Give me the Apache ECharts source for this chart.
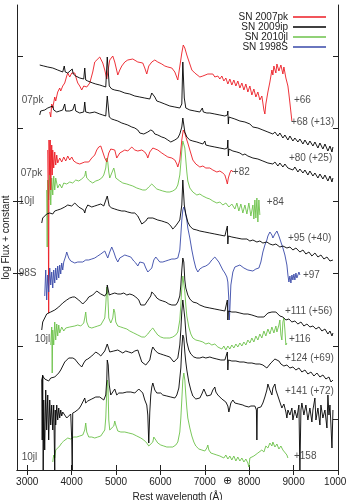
<!DOCTYPE html>
<html><head><meta charset="utf-8">
<script src="https://cdn.jsdelivr.net/npm/echarts@6/dist/echarts.min.js"></script>
<style>html,body{margin:0;padding:0;background:#fff}#c{width:346px;height:500px}</style>
</head><body><div id="c"></div>
<script>
// ---- x tick labels (Å) and y tick positions (log flux + constant) ----
const xTicks = [3000,4000,5000,6000,7000,8000,9000,10000];
const yTicks = [5.1,12.4,19.65,26.9,34.2,41.4];
const yTicksOut = [19.65,26.9];

// ---- spectra: [rest wavelength (Å), log flux + constant] ----
const pk66 = [[3507,35.8],[3530,35.3],[3552,36.6],[3575,36.2],[3620,37.3],[3642,36.9],[3687,37.8],[3732,38.2],[3755,37.9],[3800,38.4],[3845,38.7],[3890,39.4],[3913,39.7],[3958,39.3],[4003,39.7],[4071,39.7],[4116,39.0],[4138,38.7],[4183,38.4],[4228,38.0],[4273,38.4],[4341,38.3],[4409,38.7],[4476,39.8],[4521,40.8],[4566,41.0],[4634,41.3],[4702,40.7],[4747,40.0],[4792,39.1],[4837,40.4],[4859,41.0],[4927,41.4],[4972,40.8],[5040,39.5],[5085,40.0],[5130,40.4],[5198,40.8],[5265,41.0],[5310,41.2],[5378,41.1],[5423,41.2],[5491,40.8],[5536,41.0],[5603,40.7],[5648,40.2],[5693,39.6],[5738,40.4],[5806,40.8],[5874,41.0],[5941,40.8],[6031,40.6],[6099,40.4],[6167,40.3],[6257,40.2],[6325,39.8],[6392,39.0],[6437,39.2],[6482,41.7],[6515,42.5],[6550,42.2],[6595,41.5],[6617,41.2],[6663,40.6],[6708,40.0],[6775,39.7],[6820,39.5],[6888,39.3],[6956,39.4],[7001,39.2],[7068,39.6],[7113,39.4],[7181,39.6],[7226,39.3],[7294,39.4],[7339,39.1],[7384,39.4],[7429,38.9],[7474,39.2],[7519,38.6],[7564,39.1],[7609,38.5],[7654,39.0],[7700,38.4],[7744,38.9],[7790,38.2],[7835,38.7],[7880,38.0],[7925,38.6],[7970,37.8],[8015,38.4],[8060,37.5],[8105,38.1],[8150,37.3],[8195,37.8],[8240,37.0],[8285,37.4],[8331,36.0],[8353,35.6],[8375,36.6],[8421,37.8],[8466,38.8],[8511,40.0],[8533,39.5],[8556,40.4],[8601,39.7],[8624,40.6],[8669,39.9],[8714,40.5],[8759,39.6],[8781,40.3],[8826,39.2],[8872,38.4],[8894,37.6],[8917,36.7],[8939,35.8],[8962,34.9]];

const ip68 = [[3282,40.5],[3327,40.7],[3372,40.4],[3417,40.6],[3462,40.3],[3507,40.4],[3575,40.2],[3620,40.2],[3687,40.0],[3732,39.9],[3800,39.8],[3834,40.4],[3857,39.8],[3913,39.7],[3958,39.6],[4014,40.1],[4037,39.6],[4093,39.4],[4138,39.3],[4183,39.2],[4228,39.2],[4273,39.1],[4296,40.2],[4318,39.0],[4364,38.9],[4409,38.8],[4476,38.7],[4544,38.6],[4634,38.5],[4702,38.4],[4769,38.3],[4803,41.3],[4825,41.2],[4848,38.4],[4904,38.1],[4972,38.0],[5085,37.9],[5198,37.7],[5310,37.6],[5423,37.4],[5536,37.3],[5648,37.2],[5761,37.1],[5806,37.7],[5829,37.8],[5874,37.3],[5919,36.9],[5986,36.8],[6099,36.6],[6212,36.4],[6325,36.3],[6437,36.2],[6482,36.6],[6505,40.8],[6520,40.8],[6538,37.2],[6572,36.2],[6663,36.0],[6775,35.9],[6888,35.8],[6944,36.2],[6967,35.8],[7046,35.7],[7113,35.7],[7226,35.6],[7339,35.5],[7452,35.4],[7508,35.5],[7519,35.9],[7530,34.6],[7542,35.3],[7609,35.2],[7677,35.1],[7722,34.9],[7790,34.9],[7835,34.7],[7903,34.8],[7948,34.6],[8015,34.6],[8083,34.3],[8128,34.5],[8195,34.2],[8240,34.3],[8308,34.0],[8353,34.2],[8421,33.8],[8466,34.0],[8533,33.6],[8579,33.8],[8646,33.4],[8691,33.7],[8759,33.2],[8804,33.5],[8872,33.0],[8917,33.4],[8984,32.9],[9029,33.2],[9097,32.8],[9142,33.1],[9210,32.6],[9255,33.0],[9322,32.5],[9367,32.9],[9435,32.4],[9480,32.8],[9548,32.2],[9593,32.7],[9660,32.1],[9706,32.6],[9773,31.9],[9819,32.4],[9864,31.8],[9886,32.3]];

const ip80 = [[3282,35.5],[3304,35.9],[3349,35.7],[3394,36.0],[3462,36.2],[3507,36.0],[3575,36.4],[3597,36.0],[3665,35.8],[3732,35.9],[3800,36.0],[3845,36.6],[3868,35.9],[3958,35.9],[4025,36.0],[4071,36.6],[4093,35.9],[4183,35.7],[4273,35.8],[4296,36.8],[4318,35.8],[4409,35.7],[4521,35.8],[4634,35.6],[4702,35.5],[4769,35.4],[4803,37.4],[4825,37.3],[4848,35.3],[4904,35.1],[4972,35.0],[5040,34.9],[5130,34.7],[5198,34.6],[5265,34.5],[5355,34.3],[5423,34.2],[5491,34.0],[5536,33.7],[5581,33.5],[5626,33.6],[5671,33.7],[5716,33.8],[5783,34.0],[5806,34.2],[5829,33.9],[5874,33.6],[5941,33.5],[6031,33.3],[6099,33.2],[6167,33.0],[6234,32.8],[6279,32.9],[6325,33.0],[6392,33.2],[6437,33.6],[6482,34.3],[6505,35.2],[6527,35.0],[6550,33.8],[6595,33.3],[6663,33.0],[6730,32.9],[6820,32.8],[6888,32.7],[6956,32.6],[7001,32.9],[7023,32.5],[7113,32.4],[7226,32.3],[7339,32.2],[7452,32.1],[7508,32.2],[7519,33.0],[7530,31.4],[7542,32.1],[7632,31.9],[7722,31.8],[7790,31.7],[7857,31.5],[7903,31.6],[7970,31.4],[8015,31.5],[8083,31.2],[8128,31.4],[8195,31.1],[8240,31.2],[8308,30.9],[8353,31.1],[8421,30.7],[8466,30.9],[8533,30.6],[8579,30.8],[8646,30.4],[8691,30.7],[8759,30.3],[8804,30.6],[8872,30.2],[8917,30.4],[8984,30.0],[9029,30.3],[9097,29.8],[9142,30.1],[9210,29.7],[9255,30.0],[9322,29.5],[9367,29.9],[9435,29.4],[9480,29.7],[9548,29.2],[9593,29.6],[9660,29.1],[9706,29.5],[9773,28.9],[9819,29.4],[9864,28.8],[9886,29.2]];

const pk82 = [[3462,32.0],[3473,27.0],[3484,15.7],[3491,33.0],[3507,29.5],[3518,33.0],[3530,28.0],[3552,32.5],[3563,29.5],[3575,32.0],[3597,30.2],[3620,31.8],[3642,30.5],[3665,31.5],[3687,30.7],[3732,31.2],[3777,30.8],[3823,31.3],[3868,30.9],[3913,31.4],[3958,31.0],[4003,31.3],[4048,30.9],[4116,30.7],[4183,30.6],[4228,30.5],[4296,30.8],[4341,31.0],[4386,30.8],[4454,31.2],[4521,31.5],[4566,32.0],[4611,32.3],[4657,32.4],[4702,31.8],[4747,31.2],[4792,30.8],[4837,31.7],[4882,32.1],[4927,32.3],[4972,32.0],[5017,31.2],[5040,31.0],[5085,31.7],[5130,31.5],[5198,32.0],[5265,31.9],[5310,32.1],[5355,32.3],[5423,32.0],[5491,31.9],[5536,31.7],[5581,32.0],[5648,31.8],[5693,31.5],[5716,31.2],[5761,31.8],[5829,32.2],[5874,32.3],[5941,32.0],[6031,31.7],[6099,31.5],[6167,31.3],[6257,31.2],[6325,31.0],[6370,30.6],[6392,30.3],[6437,31.0],[6482,33.0],[6515,34.0],[6550,33.7],[6595,33.0],[6617,32.7],[6663,32.0],[6730,31.0],[6798,30.6],[6888,30.3],[6956,30.4],[7023,30.2],[7113,30.2],[7181,30.0],[7271,29.8],[7339,29.9],[7406,29.7],[7452,29.5],[7485,29.0],[7508,28.6],[7530,29.2],[7564,29.7],[7598,30.0],[7632,29.8]];

const jl84 = [[3439,28.0],[3450,22.3],[3462,29.0],[3484,27.0],[3507,29.5],[3530,26.5],[3552,29.2],[3575,27.5],[3597,29.4],[3620,28.0],[3642,29.2],[3687,28.2],[3732,28.6],[3777,28.2],[3823,28.7],[3890,28.6],[3958,28.8],[4025,28.7],[4093,29.0],[4161,28.9],[4228,29.1],[4296,29.4],[4318,29.9],[4341,29.2],[4409,28.9],[4476,28.7],[4544,28.9],[4611,29.0],[4679,29.2],[4724,29.5],[4769,30.2],[4792,31.2],[4814,30.8],[4837,29.8],[4859,29.2],[4904,29.4],[4950,30.2],[4972,29.8],[4995,29.2],[5040,29.0],[5085,28.9],[5153,28.7],[5243,28.6],[5310,28.5],[5378,28.4],[5468,28.2],[5536,28.1],[5603,28.0],[5671,28.0],[5738,28.3],[5806,28.6],[5851,28.4],[5919,28.1],[5986,28.0],[6054,27.9],[6144,27.8],[6212,27.8],[6279,27.9],[6347,28.1],[6392,28.5],[6437,29.5],[6460,30.7],[6482,32.0],[6505,32.9],[6527,33.1],[6550,32.2],[6572,31.0],[6595,29.8],[6617,28.9],[6663,28.2],[6730,27.8],[6820,27.5],[6888,27.6],[6956,27.4],[7046,27.2],[7113,27.1],[7181,26.9],[7271,26.7],[7339,26.8],[7406,26.5],[7474,26.7],[7542,26.3],[7609,26.6],[7677,26.1],[7722,26.7],[7767,25.9],[7812,26.6],[7857,25.7],[7903,26.5],[7948,25.6],[7992,26.7],[8038,25.4],[8083,26.5],[8105,25.1],[8128,27.0],[8150,25.2],[8173,27.2],[8195,24.8],[8218,27.0],[8240,25.5]];

const ip95 = [[3327,24.7],[3349,25.2],[3394,25.0],[3439,25.6],[3507,25.7],[3575,25.6],[3620,25.9],[3687,26.0],[3755,26.1],[3800,26.3],[3845,26.3],[3913,26.5],[3958,26.6],[4003,26.4],[4071,26.7],[4116,26.5],[4161,26.3],[4206,26.4],[4273,26.0],[4296,25.7],[4318,26.1],[4364,26.5],[4409,26.6],[4454,26.3],[4521,26.4],[4589,26.5],[4657,26.6],[4724,26.4],[4769,26.5],[4803,27.4],[4825,27.3],[4848,26.4],[4904,26.2],[4972,26.1],[5040,26.0],[5130,25.9],[5198,25.9],[5265,25.8],[5355,25.7],[5423,25.7],[5491,25.4],[5536,25.0],[5581,24.6],[5626,24.6],[5671,24.9],[5716,25.2],[5761,25.1],[5829,25.2],[5874,25.0],[5941,25.0],[6031,24.9],[6099,24.8],[6167,24.7],[6234,24.4],[6279,24.1],[6325,24.3],[6392,24.7],[6437,25.0],[6482,26.5],[6505,29.0],[6520,28.9],[6538,26.5],[6572,25.6],[6617,24.8],[6663,24.4],[6730,24.1],[6820,24.0],[6888,23.9],[7001,23.8],[7113,23.7],[7226,23.6],[7339,23.5],[7452,23.4],[7497,23.5],[7508,24.4],[7519,22.6],[7530,23.4],[7609,23.3],[7722,23.2],[7835,23.1],[7948,23.1],[8015,22.9],[8083,23.0],[8173,22.8],[8240,22.9],[8308,22.7],[8398,22.8],[8466,22.6],[8533,22.5],[8601,22.6],[8691,22.3],[8759,22.4],[8849,22.2],[8917,22.3],[8984,22.0],[9052,22.2],[9142,21.8],[9210,22.0],[9277,21.6],[9345,21.8],[9412,21.4],[9480,21.7],[9548,21.3],[9615,21.5],[9683,21.1],[9751,21.3],[9819,20.9],[9864,20.7],[9886,21.0]];

const s98S97 = [[3394,17.4],[3417,20.0],[3439,17.0],[3462,19.5],[3484,17.8],[3507,20.2],[3530,18.5],[3552,19.8],[3575,18.2],[3597,20.0],[3620,18.7],[3642,20.2],[3665,19.0],[3687,20.4],[3710,19.2],[3732,20.5],[3755,19.6],[3777,20.7],[3800,20.0],[3823,20.8],[3845,21.0],[3868,21.4],[3890,21.8],[3913,21.7],[3935,21.2],[3980,20.9],[4025,20.8],[4071,20.7],[4138,20.8],[4183,20.9],[4251,20.8],[4318,21.0],[4386,21.0],[4454,21.1],[4521,21.2],[4589,21.4],[4657,21.6],[4702,21.4],[4747,21.9],[4769,21.7],[4814,21.2],[4859,21.8],[4904,22.3],[4950,21.8],[4995,21.2],[5040,20.8],[5085,21.2],[5130,21.4],[5198,21.5],[5265,21.4],[5333,21.3],[5400,20.9],[5446,20.7],[5491,20.4],[5536,20.8],[5581,21.0],[5626,20.7],[5671,20.2],[5716,19.8],[5761,19.6],[5806,20.2],[5851,21.0],[5896,21.3],[5941,21.1],[5986,20.8],[6054,20.8],[6121,20.9],[6189,21.0],[6257,21.1],[6325,21.1],[6392,21.2],[6437,22.0],[6460,23.5],[6482,25.0],[6505,26.0],[6527,26.3],[6550,26.0],[6572,25.5],[6595,25.0],[6617,24.2],[6663,23.2],[6708,22.0],[6753,21.0],[6798,20.2],[6843,19.8],[6888,20.1],[6956,20.3],[7023,20.4],[7091,20.6],[7158,21.0],[7226,21.3],[7271,21.3],[7316,20.8],[7361,20.4],[7406,20.0],[7452,19.7],[7497,19.3],[7519,18.8],[7542,17.0],[7553,15.0],[7564,16.0],[7587,18.5],[7632,19.8],[7677,20.3],[7722,20.4],[7790,20.5],[7835,20.4],[7880,20.2],[7925,20.3],[7970,20.0],[8015,20.1],[8083,19.9],[8150,20.1],[8218,20.2],[8263,20.8],[8308,21.8],[8353,22.5],[8398,23.0],[8421,23.4],[8466,23.8],[8511,23.5],[8533,23.2],[8579,23.6],[8624,23.9],[8669,23.4],[8714,22.8],[8759,22.2],[8804,21.5],[8849,20.5],[8872,19.5],[8894,18.8],[8917,19.4],[8939,18.7],[8962,19.5],[8984,19.0],[9007,19.6],[9029,19.0],[9052,19.7],[9074,19.2],[9120,19.8],[9142,19.5]];

const ip111 = [[3327,14.0],[3349,14.8],[3394,15.2],[3439,15.6],[3484,15.4],[3530,15.8],[3575,15.7],[3620,16.0],[3665,16.1],[3710,16.3],[3755,16.5],[3800,16.7],[3845,16.8],[3890,17.0],[3958,17.2],[4025,17.3],[4071,17.3],[4116,17.2],[4161,17.0],[4206,16.8],[4251,16.6],[4296,16.5],[4341,17.0],[4386,17.3],[4431,17.4],[4476,17.5],[4521,17.7],[4566,17.9],[4611,17.7],[4657,17.6],[4702,17.5],[4747,17.4],[4792,17.7],[4803,18.5],[4825,18.4],[4848,17.5],[4904,17.6],[4972,17.7],[5040,17.6],[5108,17.6],[5175,17.7],[5243,17.5],[5310,17.6],[5378,17.5],[5446,17.3],[5513,17.0],[5558,16.5],[5603,16.3],[5648,16.5],[5693,16.8],[5738,17.1],[5783,17.4],[5806,17.8],[5829,18.0],[5874,17.5],[5919,17.2],[5986,17.0],[6054,16.9],[6121,16.8],[6189,16.6],[6257,16.5],[6302,16.3],[6347,16.5],[6392,16.8],[6437,17.4],[6460,18.5],[6482,20.0],[6505,21.2],[6527,20.8],[6550,19.0],[6572,18.2],[6617,17.5],[6663,17.1],[6730,16.8],[6820,16.7],[6888,16.5],[7001,16.3],[7113,16.2],[7226,16.1],[7339,16.0],[7452,15.9],[7497,16.0],[7508,17.0],[7519,15.0],[7530,15.9],[7609,15.8],[7700,15.8],[7790,15.7],[7880,15.6],[7970,15.6],[8060,15.5],[8128,15.4],[8195,15.3],[8263,15.3],[8331,15.3],[8375,15.5],[8421,15.7],[8466,15.9],[8511,15.8],[8556,16.0],[8601,15.8],[8646,15.6],[8691,15.4],[8759,15.3],[8826,15.0],[8894,15.1],[8962,14.8],[9029,14.9],[9097,14.6],[9165,14.8],[9232,14.4],[9300,14.6],[9367,14.3],[9435,14.4],[9503,14.1],[9570,14.3],[9638,13.9],[9706,14.1],[9773,13.6],[9819,13.9],[9864,13.4],[9886,13.7]];

const jl116 = [[3530,12.5],[3552,14.3],[3563,9.7],[3575,14.0],[3597,12.5],[3620,14.8],[3642,13.0],[3665,14.6],[3687,13.4],[3710,14.5],[3732,13.7],[3777,14.3],[3823,13.9],[3868,14.2],[3913,14.0],[3958,14.3],[4003,14.2],[4071,14.4],[4138,14.5],[4206,14.4],[4273,14.7],[4296,15.2],[4318,15.8],[4341,14.8],[4386,14.3],[4454,14.2],[4521,14.3],[4589,14.4],[4657,14.5],[4702,14.7],[4747,15.2],[4769,16.5],[4792,18.3],[4814,17.5],[4837,15.2],[4882,14.7],[4927,15.2],[4950,16.1],[4972,15.8],[4995,14.8],[5040,14.4],[5108,14.3],[5175,14.2],[5243,14.1],[5310,13.9],[5400,13.7],[5491,13.5],[5581,13.3],[5648,13.3],[5716,13.6],[5783,14.0],[5829,14.2],[5874,13.9],[5941,13.5],[6008,13.3],[6076,13.2],[6144,13.2],[6212,13.2],[6279,13.3],[6347,13.5],[6392,13.8],[6437,15.0],[6460,16.5],[6482,18.2],[6505,19.4],[6527,19.2],[6550,17.8],[6572,16.5],[6595,15.4],[6640,14.3],[6685,13.6],[6730,13.2],[6798,13.0],[6888,12.9],[6956,12.8],[7023,12.6],[7091,12.7],[7158,12.5],[7226,12.6],[7294,12.3],[7339,12.5],[7384,12.1],[7429,12.4],[7474,12.0],[7519,12.4],[7564,12.1],[7609,12.5],[7654,12.2],[7700,12.6],[7744,12.3],[7790,12.7],[7835,12.4],[7880,12.8],[7925,12.5],[7970,13.0],[8015,12.7],[8060,13.2],[8105,12.8],[8150,13.4],[8195,13.0],[8240,13.6],[8285,13.2],[8331,13.9],[8375,13.4],[8421,14.1],[8466,13.6],[8511,14.3],[8556,13.7],[8601,14.4],[8624,13.8],[8669,14.5],[8691,15.0],[8714,13.5],[8736,13.0],[8759,14.8],[8781,15.2],[8804,14.0],[8826,12.5],[8849,12.7]];

const ip124 = [[3327,9.0],[3349,9.4],[3394,9.1],[3439,9.3],[3484,8.9],[3530,9.2],[3575,9.0],[3620,9.3],[3665,9.5],[3710,9.7],[3755,10.0],[3800,10.4],[3845,10.8],[3890,11.0],[3935,11.2],[3980,11.3],[4025,11.2],[4071,11.1],[4116,10.9],[4161,10.6],[4206,10.4],[4228,10.3],[4273,10.7],[4318,11.0],[4364,11.1],[4409,11.3],[4454,11.4],[4499,11.6],[4544,11.8],[4566,12.0],[4611,11.6],[4657,11.4],[4702,11.6],[4747,11.9],[4769,12.1],[4803,12.6],[4825,12.4],[4859,11.8],[4904,11.7],[4950,11.9],[4995,12.0],[5040,12.0],[5085,11.8],[5153,11.7],[5220,11.9],[5288,11.8],[5355,11.7],[5423,11.9],[5468,12.1],[5491,12.0],[5536,11.4],[5581,10.8],[5626,10.6],[5671,10.5],[5716,10.7],[5761,11.0],[5806,12.0],[5829,12.3],[5874,12.0],[5941,11.7],[6008,11.6],[6076,11.5],[6144,11.4],[6212,11.3],[6257,11.2],[6302,10.8],[6347,10.7],[6392,11.2],[6437,12.5],[6460,14.0],[6482,15.8],[6505,17.0],[6527,16.8],[6550,15.2],[6572,13.8],[6595,12.8],[6640,12.0],[6685,11.6],[6753,11.3],[6820,11.2],[6888,11.2],[6956,11.3],[7023,11.2],[7113,11.3],[7181,11.2],[7271,11.1],[7361,11.0],[7452,11.0],[7497,11.1],[7508,11.8],[7519,10.0],[7530,11.0],[7609,10.9],[7700,10.9],[7790,10.8],[7880,10.8],[7970,10.7],[8060,10.7],[8150,10.6],[8240,10.6],[8308,10.5],[8353,10.4],[8398,10.2],[8443,10.4],[8488,10.7],[8533,10.9],[8579,11.1],[8624,11.2],[8669,10.9],[8714,10.6],[8781,10.4],[8849,10.5],[8917,10.2],[8984,10.3],[9052,10.0],[9120,10.2],[9187,9.8],[9255,10.0],[9322,9.6],[9390,9.8],[9458,9.4],[9525,9.7],[9593,9.3],[9660,9.5],[9728,9.1],[9796,9.3],[9841,8.8],[9886,9.0]];

const ip141 = [[3327,9.0],[3338,3.0],[3349,9.5],[3360,0.0],[3372,7.0],[3394,2.0],[3417,8.0],[3439,4.0],[3462,7.5],[3484,3.0],[3507,7.0],[3530,4.5],[3552,6.5],[3575,4.0],[3597,6.5],[3620,0.0],[3631,6.0],[3642,4.5],[3665,6.5],[3687,5.0],[3710,6.2],[3732,5.2],[3755,6.0],[3777,5.4],[3800,5.8],[3845,5.6],[3890,5.2],[3935,5.4],[3980,5.6],[4003,3.0],[4014,0.0],[4025,5.7],[4071,5.8],[4116,6.0],[4161,6.1],[4206,6.4],[4251,6.6],[4296,7.2],[4318,6.7],[4364,6.9],[4409,7.0],[4454,7.1],[4499,7.2],[4544,7.3],[4589,7.2],[4634,7.3],[4679,7.2],[4724,7.0],[4769,7.5],[4792,9.0],[4803,11.0],[4825,10.5],[4848,8.5],[4882,7.5],[4927,7.8],[4972,8.1],[5017,7.5],[5063,7.7],[5108,7.9],[5153,7.7],[5198,7.9],[5243,7.8],[5288,8.0],[5333,7.8],[5378,7.9],[5423,7.7],[5468,7.8],[5513,8.1],[5558,8.2],[5603,7.7],[5648,7.0],[5693,6.5],[5716,5.5],[5738,2.7],[5761,5.8],[5783,7.5],[5806,8.3],[5829,8.7],[5874,8.0],[5919,7.7],[5963,7.9],[6008,7.7],[6054,7.5],[6099,7.6],[6144,7.4],[6189,7.5],[6234,7.3],[6279,7.4],[6325,7.2],[6370,7.5],[6415,8.2],[6460,10.2],[6482,12.2],[6505,13.5],[6527,13.2],[6550,11.8],[6572,10.8],[6595,10.0],[6640,8.8],[6685,8.0],[6730,7.4],[6798,7.1],[6843,7.2],[6888,7.2],[6933,7.6],[6978,8.1],[7001,7.9],[7046,7.4],[7091,7.3],[7136,7.5],[7181,8.0],[7226,8.3],[7249,7.8],[7294,7.5],[7339,7.4],[7384,7.1],[7429,7.0],[7474,6.8],[7519,6.4],[7542,5.8],[7564,6.0],[7587,6.7],[7632,7.0],[7677,6.7],[7722,6.9],[7767,6.6],[7812,6.8],[7857,6.5],[7903,6.4],[7948,6.6],[7992,6.3],[8038,6.4],[8083,6.2],[8128,6.4],[8162,6.0],[8173,3.0],[8184,6.2],[8218,6.2],[8263,6.3],[8308,6.7],[8353,7.3],[8398,8.0],[8421,8.6],[8466,8.0],[8511,7.5],[8533,8.2],[8579,8.6],[8601,8.0],[8646,7.4],[8691,6.8],[8736,6.2],[8781,6.6],[8826,5.8],[8849,5.2],[8872,6.0],[8917,5.5],[8962,6.2],[8984,5.0],[9029,6.0],[9074,5.2],[9120,6.5],[9142,0.0],[9165,6.0],[9187,6.7],[9232,5.5],[9277,6.5],[9322,5.0],[9367,6.2],[9412,4.8],[9435,6.0],[9480,7.2],[9503,5.0],[9548,6.2],[9593,4.5],[9615,6.5],[9660,5.2],[9706,6.0],[9751,4.2],[9773,7.5],[9796,5.5],[9819,6.5],[9841,4.5],[9864,2.2],[9886,6.0]];

const jl158 = [[3575,0.8],[3597,1.5],[3620,1.2],[3642,2.0],[3687,2.2],[3732,2.4],[3777,2.7],[3823,2.9],[3868,3.0],[3913,3.2],[3980,3.1],[4048,3.3],[4116,3.3],[4183,3.4],[4251,3.5],[4296,4.0],[4318,4.7],[4341,3.8],[4386,3.3],[4454,3.3],[4521,3.2],[4589,3.3],[4657,3.4],[4702,3.6],[4747,4.0],[4769,5.2],[4792,7.8],[4807,9.0],[4821,8.2],[4837,5.0],[4859,4.0],[4904,3.9],[4950,4.4],[4972,4.9],[4995,4.5],[5040,3.9],[5108,3.8],[5198,3.8],[5288,3.7],[5378,3.6],[5468,3.4],[5558,3.2],[5626,3.0],[5693,2.7],[5738,2.4],[5783,2.3],[5829,2.8],[5851,3.3],[5896,3.0],[5941,2.7],[6008,2.5],[6076,2.4],[6144,2.3],[6212,2.3],[6279,2.3],[6347,2.5],[6392,2.8],[6437,3.8],[6460,5.2],[6482,7.0],[6505,9.0],[6527,9.7],[6550,9.0],[6572,7.5],[6595,6.2],[6617,5.2],[6663,4.2],[6708,3.4],[6753,2.8],[6798,2.4],[6866,2.1],[6933,2.0],[7001,1.9],[7046,2.2],[7068,2.5],[7091,2.0],[7136,1.7],[7203,1.6],[7271,1.5],[7339,1.4],[7384,1.6],[7429,1.2],[7474,1.5],[7519,1.1],[7564,1.4],[7609,1.0],[7654,1.4],[7700,0.9],[7744,1.3],[7790,0.9],[7835,1.2],[7880,0.8],[7925,1.1],[7970,0.7],[7992,0.3],[8015,1.2],[8060,1.0],[8105,1.4],[8150,1.2],[8195,1.7],[8240,1.5],[8285,2.0],[8331,1.8],[8375,2.4],[8421,2.2],[8466,2.7],[8511,2.4],[8533,2.8],[8579,2.3],[8624,2.6],[8669,2.1],[8714,2.4],[8759,2.0],[8804,2.2],[8849,1.5],[8872,1.2]];

// ---- annotations: text and anchor [wavelength, value] ----
const leftText = ['07pk','07pk','10jl','98S','10jl','10jl'];
const leftPos = [[2876,37.0],[2853,29.7],[2808,26.9],[2808,19.65],[3169,13.1],[2876,1.3]];
const rightText = ['+66','+68 (+13)','+80 (+25)','+82','+84','+95 (+40)','+97','+111 (+56)','+116','+124 (+69)','+141 (+72)','+158'];
const rightPos = [[9007,37.0],[8939,34.8],[8894,31.2],[7632,29.8],[8398,26.8],[8872,23.2],[9210,19.5],[8804,15.9],[8894,13.1],[8804,11.2],[8804,7.9],[9007,1.4]];

const legendNames = ['SN 2007pk','SN 2009ip','SN 2010jl','SN 1998S'];
const colors = {'SN 2007pk':'#ec1c24','SN 2009ip':'#000000','SN 2010jl':'#6cc24a','SN 1998S':'#3848a8'};

const FONT = '"Liberation Sans", Arial, Helvetica, sans-serif';
const TXT = '#222';

function spec(name, data){
  return {name:name, type:'line', data:data, showSymbol:false, symbol:'none', sampling:null,
    lineStyle:{width:0.9, color:colors[name]}, itemStyle:{color:colors[name]}, silent:true, z:2, clip:true};
}
const series = [
  spec('SN 2007pk', pk66), spec('SN 2009ip', ip68), spec('SN 2010jl', jl84), spec('SN 2010jl', jl116), spec('SN 2010jl', jl158),
  spec('SN 2007pk', pk82), spec('SN 1998S', s98S97),
  spec('SN 2009ip', ip80), spec('SN 2009ip', ip95), spec('SN 2009ip', ip111), spec('SN 2009ip', ip124), spec('SN 2009ip', ip141)
];
function labels(text,pos){
  return {type:'scatter', symbolSize:0, silent:true, z:5, clip:false,
    data: pos.map((p,i)=>({value:p, label:{formatter:text[i]}})),
    label:{show:true, position:'inside', align:'left', verticalAlign:'middle', fontSize:10, fontFamily:FONT, color:TXT}};
}
series.push(labels(leftText,leftPos));
series.push(labels(rightText,rightPos));

const chart = echarts.init(document.getElementById('c'), null, {renderer:'canvas'});
const frame = {show:true, lineStyle:{color:'#222', width:1}};
chart.setOption({
  animation:false,
  backgroundColor:'#fff',
  grid:{left:17, right:8, top:5, bottom:30, containLabel:false, outerBoundsMode:'none'},
  legend:{data:legendNames, orient:'vertical', align:'right', right:20, top:12, itemGap:0,
    itemWidth:33, itemHeight:1.5, icon:'rect', padding:0, selectedMode:false,
    textStyle:{fontSize:10, fontFamily:FONT, color:TXT, lineHeight:8}},
  xAxis:[
    {type:'value', min:2770, max:10000, position:'bottom', axisLine:frame,
     axisTick:{show:true, inside:true, length:5, customValues:xTicks, lineStyle:{color:'#222'}},
     axisLabel:{show:true, customValues:xTicks, formatter:v=>String(v), fontSize:10, fontFamily:FONT, color:TXT, margin:7},
     splitLine:{show:false},
     name:'Rest wavelength (Å)', nameLocation:'middle', nameGap:20,
     nameTextStyle:{fontSize:10, fontFamily:FONT, color:TXT}},
    {type:'value', min:2770, max:10000, position:'top', axisLine:frame,
     axisTick:{show:true, inside:true, length:5, customValues:xTicks, lineStyle:{color:'#222'}},
     axisLabel:{show:false}, splitLine:{show:false}}
  ],
  yAxis:[
    {type:'value', min:0, max:46.5, position:'left', axisLine:frame,
     axisTick:{show:true, inside:true, length:6, customValues:yTicks, lineStyle:{color:'#222'}},
     axisLabel:{show:false}, splitLine:{show:false},
     name:'log Flux + constant', nameLocation:'middle', nameGap:6, nameRotate:90,
     nameTextStyle:{fontSize:10, fontFamily:FONT, color:TXT}},
    {type:'value', min:0, max:46.5, position:'right', axisLine:frame,
     axisTick:{show:true, inside:true, length:5, customValues:yTicks, lineStyle:{color:'#222'}},
     axisLabel:{show:false}, splitLine:{show:false}},
    {type:'value', min:0, max:46.5, position:'left', axisLine:{show:false},
     axisTick:{show:true, inside:false, length:4, customValues:yTicksOut, lineStyle:{color:'#222'}},
     axisLabel:{show:false}, splitLine:{show:false}}
  ],
  graphic:[{type:'text', left:223, top:476, style:{text:'⊕', fontSize:11, fontFamily:'"DejaVu Sans", sans-serif', fill:TXT}}],
  series:series
});
</script></body></html>
